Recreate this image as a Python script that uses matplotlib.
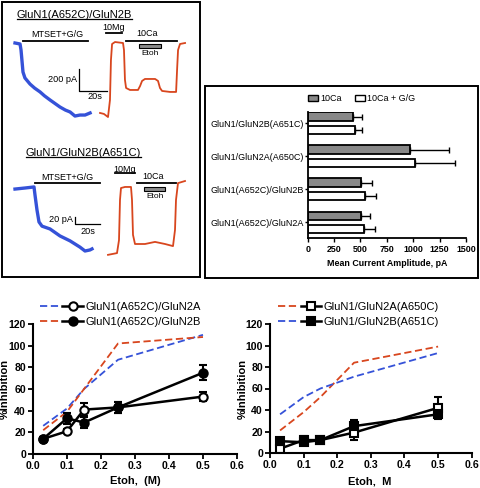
import matplotlib.pyplot as plt
from matplotlib.patches import Rectangle, Patch
from matplotlib.lines import Line2D
from matplotlib.legend_handler import HandlerTuple

plt.rcParams['font.family'] = ['Liberation Sans', 'DejaVu Sans']

BLUE = '#3552d8'
RED = '#d8461e'

# ---- current traces: time (s), current (pA)
tr1_blue_t = [0, 3.6, 4.3, 5.7, 7.1, 10.7, 14, 17.9, 21, 25, 28, 32.1, 36, 39.3, 42.8, 46.4, 50, 53.6]
tr1_blue_i = [0, -9, -64, -264, -318, -373, -410, -445, -480, -518, -545, -582, -610, -627, -664, -655, -655, -636]
tr1_red_t = [60.7, 63.5, 66.4, 67.8, 68.5, 69.3, 71.4, 77.1, 77.8, 78.5, 79.3, 82.1, 87.8, 89.3, 90.7,
             92.8, 100, 102.1, 103.5, 105, 110.7, 115, 115.7, 116.4, 117.8, 121.4]
tr1_red_i = [-636, -645, -673, -518, -155, -9, 9, 0, -64, -336, -409, -427, -427, -391, -345,
             -327, -327, -345, -409, -436, -445, -445, -245, -64, -9, 0]

tr2_blue_t = [0, 8, 15.2, 16, 17.6, 19.2, 21.6, 28, 36, 44, 52, 56, 60, 61.6]
tr2_blue_i = [-3, 0, 3, -20, -63, -97, -109, -117, -137, -151, -169, -180, -177, -174]
tr2_red_t = [74.4, 81.6, 83.2, 84, 84.8, 88, 92.8, 93.6, 94.4, 96, 104, 112, 120, 126.4, 128, 128.8, 130.4, 136]
tr2_red_i = [-191, -186, -149, -34, 0, 3, 3, -34, -134, -160, -160, -154, -160, -166, -120, -34, 14, 20]

# ---- bar chart
bar_labels = ['GluN1/GluN2B(A651C)', 'GluN1/GluN2A(A650C)', 'GluN1(A652C)/GluN2B', 'GluN1(A652C)/GluN2A']
ca_mean = [430, 970, 505, 505]
ca_err = [85, 370, 100, 90]
gg_mean = [445, 1020, 545, 530]
gg_err = [70, 380, 100, 105]

# ---- %inhibition vs ethanol
etoh = [0.03, 0.1, 0.15, 0.25, 0.5]
a652c_2a = [14, 21, 41, 43, 53]
a652c_2a_err = [2, 2, 6, 5, 4]
a652c_2b = [14, 33, 29, 43, 75]
a652c_2b_err = [2, 5, 5, 5, 7]
a652c_2a_dash = [26, 42, 60, 87, 110]
a652c_2b_dash = [22, 39, 60, 102, 108]
a650c = [4, 12, 12, 19, 42]
a650c_err = [3, 4, 2, 7, 10]
a651c = [11, 10, 12, 25, 36]
a651c_err = [2, 3, 2, 6, 3]
a650c_dash = [21, 38, 52, 84, 99]
a651c_dash = [36, 52, 60, 71, 93]

W, H = 481, 488
fig = plt.figure(figsize=(W / 100, H / 100), dpi=100)


def px_axes(x0, y0, x1, y1):
    return fig.add_axes([x0 / W, 1 - y1 / H, (x1 - x0) / W, (y1 - y0) / H])


def frame(x0, y0, x1, y1):
    fig.add_artist(Rectangle((x0 / W, 1 - y1 / H), (x1 - x0) / W, (y1 - y0) / H,
                             transform=fig.transFigure, fill=False, lw=1.4, ec='black'))


frame(2, 2, 200, 277)
frame(205.5, 86, 478, 278)


def trace_panel(ax, title, tb, ib, tr, ir, bars, etoh_box, sbar, sbar_txt, tpos):
    ax.plot(tb, ib, color=BLUE, lw=2.4, solid_joinstyle='round')
    ax.plot(tr, ir, color=RED, lw=1.3)
    for (t0, t1, y), (lab, tx, ty) in bars:
        ax.plot([t0, t1], [y, y], color='black', lw=1.3)
        ax.text(tx, ty, lab, ha='center', va='center', fontsize=6.5)
    (e0, e1, ey0, ey1), (ex, ey) = etoh_box
    ax.add_patch(Rectangle((e0, ey1), e1 - e0, ey0 - ey1, fc='#8a8a8a', ec='black', lw=0.8))
    ax.text(ex, ey, 'Etoh', ha='center', va='center', fontsize=6)
    sx, sy0, sy1, sx1 = sbar
    ax.plot([sx, sx, sx1], [sy0, sy1, sy1], color='black', lw=0.9)
    (l1, x1, y1), (l2, x2, y2) = sbar_txt
    ax.text(x1, y1, l1, ha='right', va='center', fontsize=6.6)
    ax.text(x2, y2, l2, ha='center', va='center', fontsize=6.6)
    t = ax.text(tpos[0], tpos[1], title, ha='left', va='center', fontsize=8)
    ax.axis('off')
    return t


ax1 = px_axes(10, 10, 195, 130)
ax1.set_xlim(-3.57, 128.5)
ax1.set_ylim(-791, 300)
t1 = trace_panel(ax1, 'GluN1(A652C)/GluN2B', tr1_blue_t, tr1_blue_i, tr1_red_t, tr1_red_i,
                 [((5.7, 52.1, 18), ('MTSET+G/G', 30, 73)),
                  ((65, 76.4, 91), ('10Mg', 70.7, 145)),
                  ((79.3, 115.7, 18), ('10Ca', 94, 82))],
                 ((88.5, 104.2, -9, -45), (96.4, -91)),
                 (45.7, -236, -436, 65.7),
                 (('200 pA', 44.3, -336), ('20s', 56.9, -488)),
                 (1.4, 254))

ax2 = px_axes(10, 145, 195, 270)
ax2.set_xlim(-4, 144)
ax2.set_ylim(-234.3, 122.9)
t2 = trace_panel(ax2, 'GluN1/GluN2B(A651C)', tr2_blue_t, tr2_blue_i, tr2_red_t, tr2_red_i,
                 [((16, 68, 14.3), ('MTSET+G/G', 41.6, 28.6)),
                  ((80, 96, 43.7), ('10Mg', 88, 53)),
                  ((97.6, 128.8, 14.3), ('10Ca', 110.7, 34))],
                 ((103.2, 120, 2.9, -8.6), (112, -25)),
                 (48, -83, -103, 68),
                 (('20 pA', 46.4, -91), ('20s', 58, -123)),
                 (8.8, 100))

fig.canvas.draw()
inv = fig.transFigure.inverted()
for t in (t1, t2):
    bb = t.get_window_extent()
    (x0, y0), (x1, y1) = inv.transform([(bb.x0, bb.y0), (bb.x1, bb.y1)])
    fig.add_artist(Line2D([x0, x1], [y0 + 1.0 / H, y0 + 1.0 / H], transform=fig.transFigure,
                          color='black', lw=0.9))

# ---- bar chart
axb = px_axes(307.7, 112, 466, 238)
n = len(bar_labels)
pos = list(range(n))
gray_y = [p - 0.2 for p in pos]
white_y = [p + 0.2 for p in pos]
axb.barh(gray_y, ca_mean, height=0.26, color='#888888', edgecolor='black', lw=1.3, label='10Ca')
axb.barh(white_y, gg_mean, height=0.26, color='white', edgecolor='black', lw=1.3, label='10Ca + G/G')
axb.errorbar(ca_mean, gray_y, xerr=[[0] * n, ca_err], fmt='none', ecolor='black',
             elinewidth=1.0, capsize=2, capthick=1.0)
axb.errorbar(gg_mean, white_y, xerr=[[0] * n, gg_err], fmt='none', ecolor='black',
             elinewidth=1.0, capsize=2, capthick=1.0)
axb.set_xlim(0, 1500)
axb.set_ylim(3.47, -0.34)
axb.set_yticks(pos)
axb.set_yticklabels(bar_labels, fontsize=6.5)
axb.set_xticks([0, 250, 500, 750, 1000, 1250, 1500])
axb.tick_params(axis='x', labelsize=6.4, width=1.0, length=3, pad=2)
axb.tick_params(axis='y', width=1.0, length=2, pad=1)
for lab in axb.get_xticklabels():
    lab.set_fontweight('bold')
axb.set_xlabel('Mean Current Amplitude, pA', fontsize=6.4, fontweight='bold')
axb.xaxis.set_label_coords(0.504, -0.167)
axb.xaxis.label.set_va('top')
for s in ('top', 'right'):
    axb.spines[s].set_visible(False)
for s in ('left', 'bottom'):
    axb.spines[s].set_linewidth(1.3)
axb.legend(handles=[Patch(fc='#888888', ec='black', lw=1.0, label='10Ca'),
                    Patch(fc='white', ec='black', lw=1.0, label='10Ca + G/G')],
           loc='center left', bbox_to_anchor=(0.0, 1.105), ncol=2, frameon=False,
           fontsize=6.5, handlelength=1.15, handleheight=0.75, handletextpad=0.2,
           columnspacing=1.5, borderpad=0, borderaxespad=0)


# ---- %inhibition panels
def inhibition_panel(ax, series, xlabel, xlab_coords, ylab_x, leg_x):
    handles, labels = [], []
    for dash_vals, dash_col, vals, err, marker, mfc, label in series:
        dl, = ax.plot(etoh, dash_vals, color=dash_col, lw=1.3, dashes=(4, 2))
        handles.append(dl)
        labels.append(label)
    lines = []
    for dash_vals, dash_col, vals, err, marker, mfc, label in series:
        eb = ax.errorbar(etoh, vals, yerr=err, color='black', lw=1.8, marker=marker, ms=6,
                         mfc=mfc, mec='black', mew=1.5, capsize=3, elinewidth=1.5, capthick=1.5)
        lines.append(eb.lines[0])
    ax.set_xlim(0, 0.6)
    ax.set_ylim(0, 120)
    ax.set_xticks([0, 0.1, 0.2, 0.3, 0.4, 0.5, 0.6])
    ax.set_xticklabels(['0.0', '0.1', '0.2', '0.3', '0.4', '0.5', '0.6'])
    ax.set_yticks([0, 20, 40, 60, 80, 100, 120])
    ax.tick_params(labelsize=7.6, width=1.3, length=3.5, pad=1.5)
    for lab in ax.get_xticklabels() + ax.get_yticklabels():
        lab.set_fontweight('bold')
    for s in ('top', 'right'):
        ax.spines[s].set_visible(False)
    for s in ('left', 'bottom'):
        ax.spines[s].set_linewidth(1.5)
    ax.set_xlabel(xlabel, fontsize=8, fontweight='bold')
    ax.xaxis.set_label_coords(*xlab_coords)
    ax.xaxis.label.set_va('top')
    ax.set_ylabel('%Inhibition', fontsize=8, fontweight='bold')
    ax.yaxis.set_label_coords(ylab_x, 0.5)
    leg = ax.legend(list(zip(handles, lines)), labels,
                    handler_map={tuple: HandlerTuple(ndivide=None, pad=0.15)},
                    loc='lower left', bbox_to_anchor=(leg_x, 0.975), frameon=False,
                    fontsize=8, handlelength=3.9, handletextpad=0.2, labelspacing=0.5,
                    borderpad=0, borderaxespad=0)
    leg.set_zorder(5)


axl = px_axes(33, 324, 237, 454)
inhibition_panel(axl,
                 [(a652c_2a_dash, BLUE, a652c_2a, a652c_2a_err, 'o', 'white', 'GluN1(A652C)/GluN2A'),
                  (a652c_2b_dash, RED, a652c_2b, a652c_2b_err, 'o', 'black', 'GluN1(A652C)/GluN2B')],
                 'Etoh,  (M)', (0.5, -0.169), -0.113, 0.034)

axr = px_axes(270, 324, 471.7, 453)
inhibition_panel(axr,
                 [(a650c_dash, RED, a650c, a650c_err, 's', 'white', 'GluN1/GluN2A(A650C)'),
                  (a651c_dash, BLUE, a651c, a651c_err, 's', 'black', 'GluN1/GluN2B(A651C)')],
                 'Etoh,  M', (0.496, -0.183), -0.109, 0.04)

fig.savefig('out.png', dpi=100)
